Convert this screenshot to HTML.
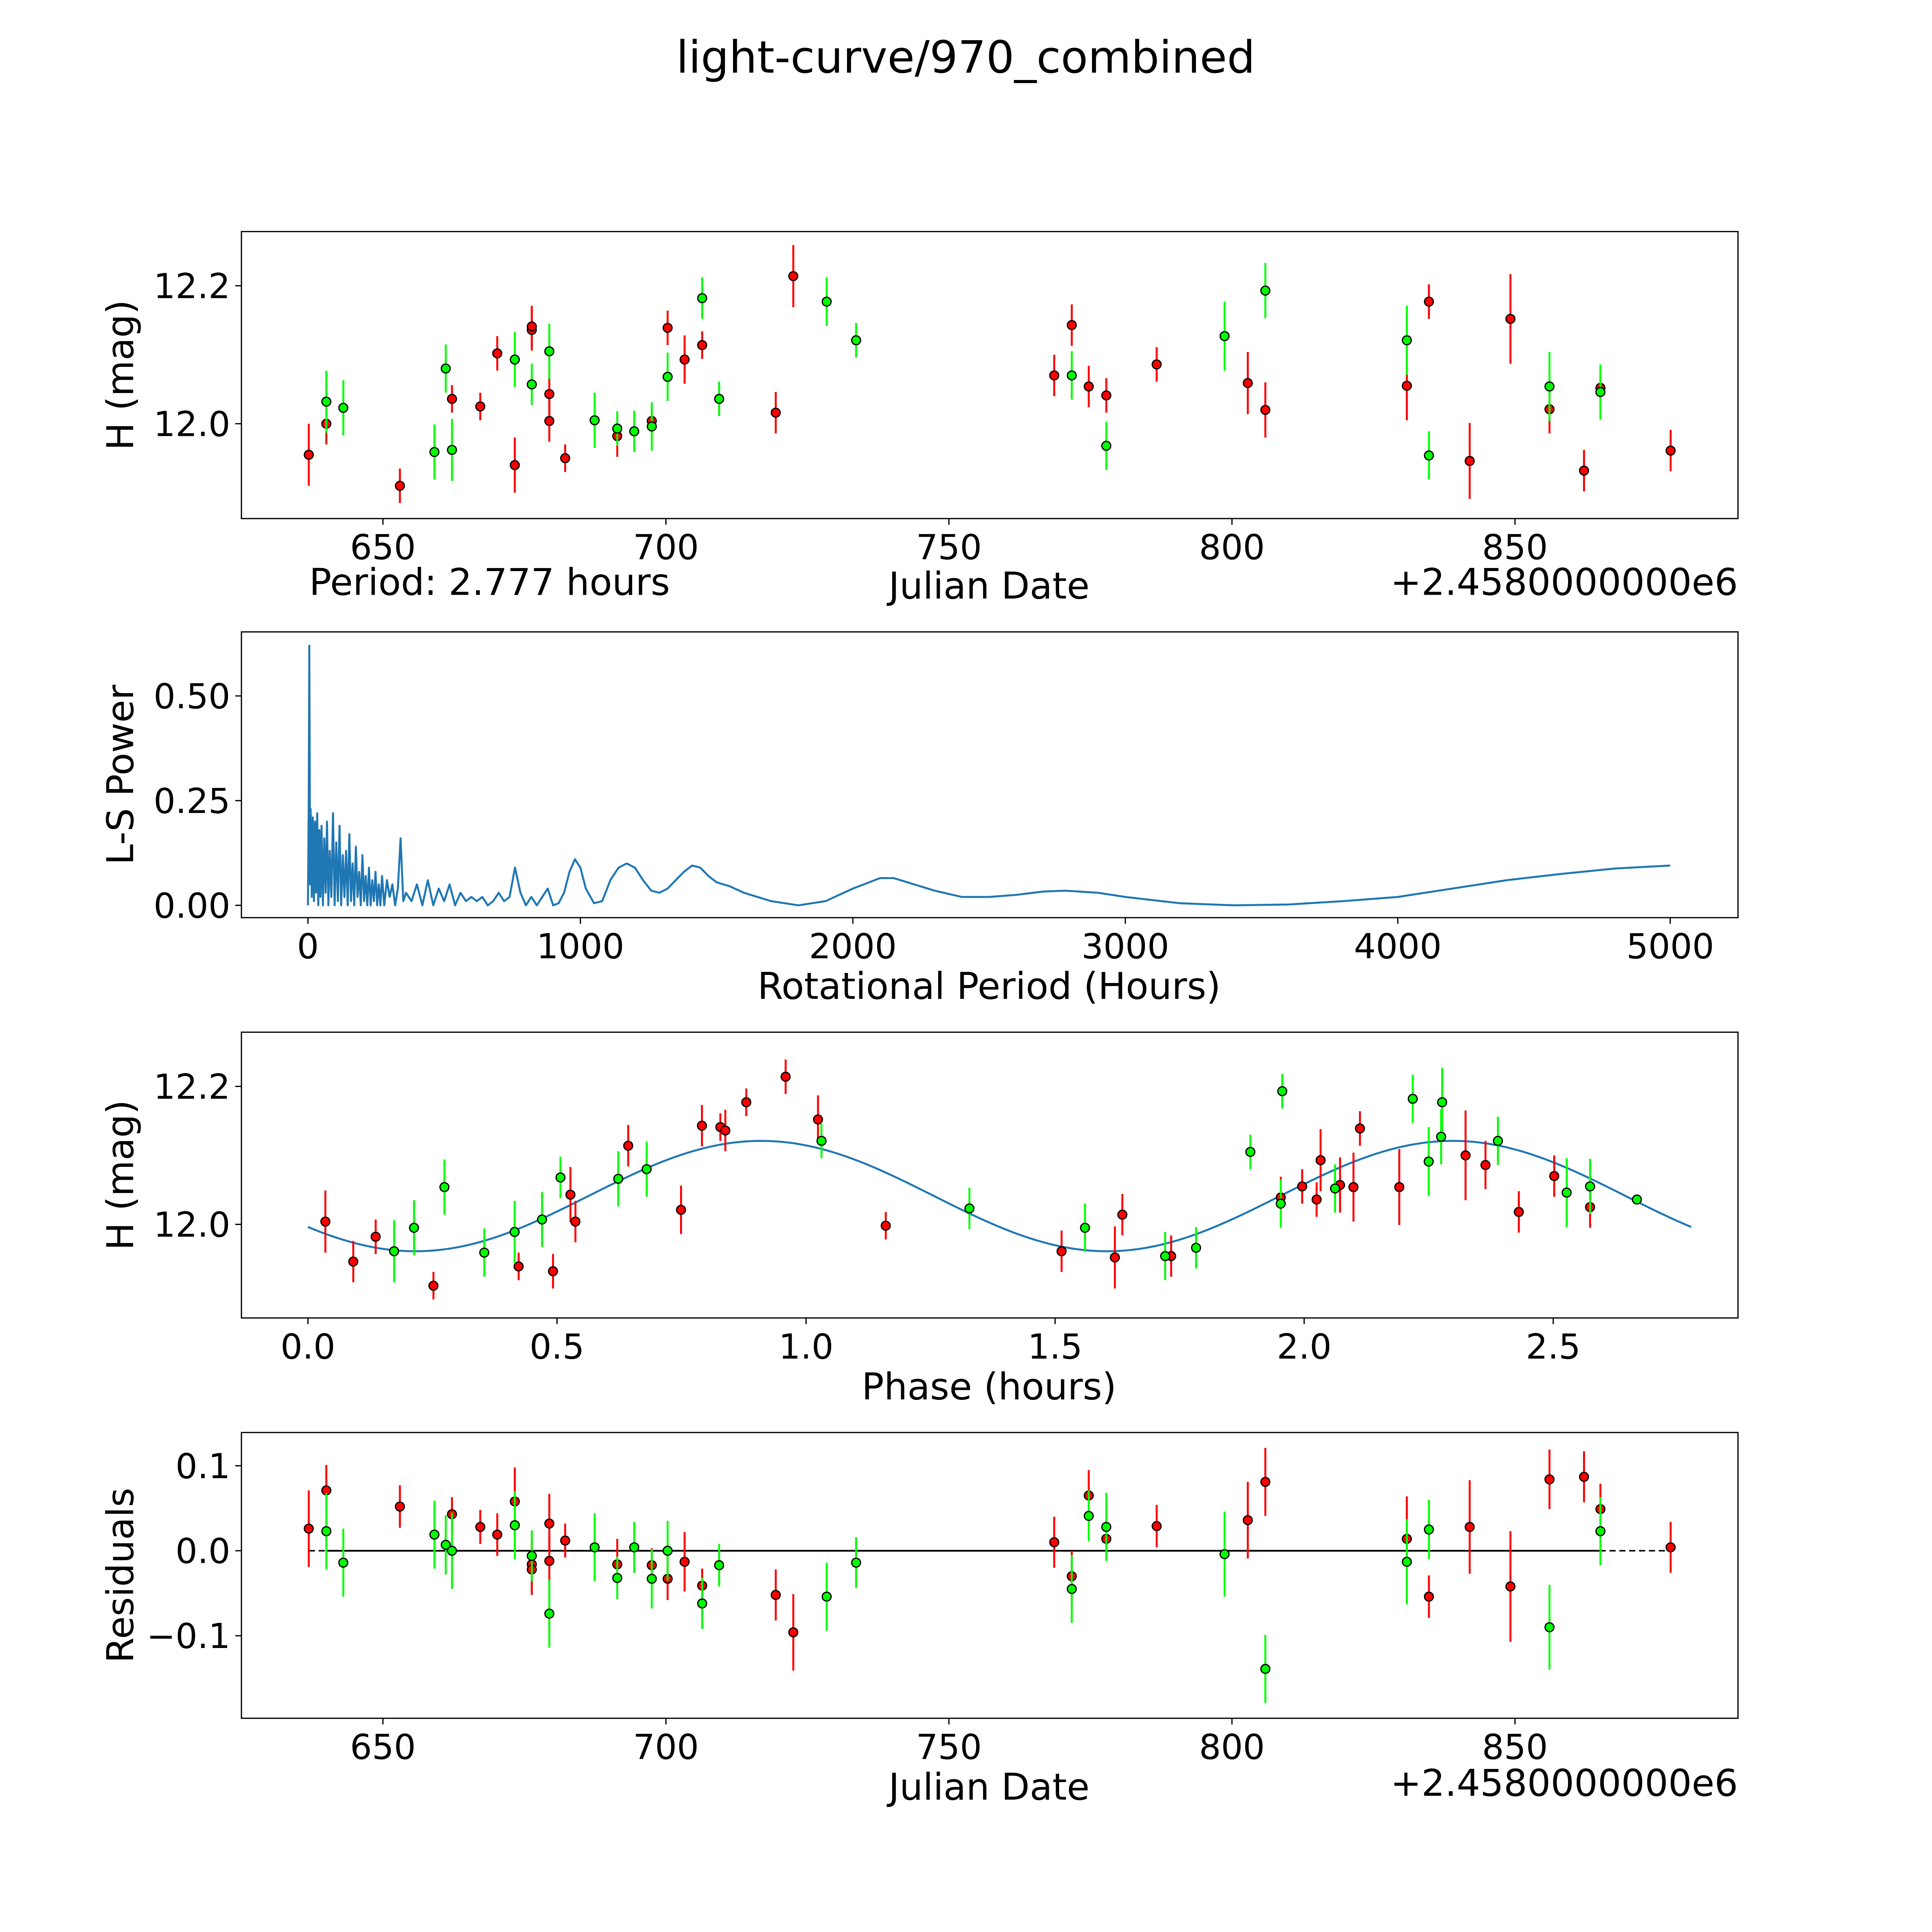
<!DOCTYPE html>
<html><head><meta charset="utf-8">
<style>
html,body{margin:0;padding:0;background:#fff;width:5400px;height:5400px;overflow:hidden;}
svg{display:block;position:absolute;left:0;top:0;}
text{font-family:"DejaVu Sans","Liberation Sans",sans-serif;fill:#000;}
</style></head>
<body>
<svg id="fig" xmlns="http://www.w3.org/2000/svg" width="5400" height="5400" viewBox="0 0 1694 1694" preserveAspectRatio="xMinYMin meet">
<rect x="0" y="0" width="1694" height="1694" fill="#fff"/>
<text x="784" y="59" font-size="36" text-anchor="middle">light-curve/970_combined</text>
</svg>
<script>
// ---- Panel 1: raw light curve ----
const redDates=[636.9,640.0,653.0,662.2,667.2,670.2,673.3,676.3,676.3,679.4,679.4,682.2,691.4,697.5,700.3,703.3,706.4,719.4,722.5,768.6,771.7,774.7,777.8,786.7,802.8,805.9,830.9,834.8,842.0,849.2,856.1,862.2,865.1,877.5];
const redMags=[11.955,12.0,11.91,12.036,12.025,12.102,11.94,12.136,12.141,12.043,12.004,11.95,11.982,12.004,12.139,12.093,12.114,12.016,12.214,12.07,12.143,12.054,12.041,12.086,12.059,12.02,12.055,12.177,11.946,12.152,12.021,11.932,12.052,11.961];
const redErrs=[0.045,0.03,0.025,0.02,0.02,0.025,0.04,0.03,0.03,0.035,0.03,0.02,0.03,0.02,0.025,0.035,0.02,0.03,0.045,0.03,0.03,0.03,0.025,0.025,0.045,0.04,0.05,0.025,0.055,0.065,0.035,0.03,0.03,0.03];
const greenDates=[640.0,643.0,659.1,661.1,662.2,673.3,676.3,679.4,687.4,691.4,694.4,697.5,700.3,706.4,709.4,728.4,733.6,771.7,777.8,798.7,805.9,830.9,834.8,856.1,865.1];
const greenMags=[12.032,12.023,11.959,12.08,11.962,12.093,12.057,12.105,12.005,11.993,11.989,11.996,12.068,12.182,12.036,12.177,12.121,12.07,11.968,12.127,12.193,12.121,11.954,12.054,12.046];
const greenErrs=[0.045,0.04,0.04,0.035,0.045,0.04,0.03,0.04,0.04,0.025,0.03,0.035,0.035,0.03,0.025,0.035,0.025,0.035,0.035,0.05,0.04,0.05,0.035,0.05,0.04];
// ---- Panel 2: periodogram ----
const lsPeriod=[0,3,5,8,10,14,18,22,26,30,34,38,42,46,50,55,60,65,70,75,80,86,92,98,104,110,116,122,128,134,140,146,152,158,164,170,176,182,188,194,200,206,212,218,224,230,236,242,248,254,260,266,272,280,290,300,310,320,330,340,350,360,380,400,420,440,460,480,500,520,540,560,580,600,620,640,660,680,700,720,740,760,780,800,820,840,860,880,900,920,940,960,980,1000,1020,1050,1080,1110,1140,1170,1200,1230,1260,1290,1320,1350,1380,1410,1440,1470,1500,1550,1600,1700,1800,1900,2000,2100,2150,2200,2300,2400,2500,2600,2700,2780,2900,3000,3200,3400,3600,3800,4000,4200,4400,4600,4800,5000];
const lsPower=[0,0.25,0.62,0.05,0.23,0.02,0.21,0.01,0.2,0.03,0.22,0.0,0.18,0.02,0.19,0.0,0.16,0.03,0.2,0.0,0.13,0.02,0.22,0.0,0.15,0.01,0.19,0.0,0.12,0.02,0.13,0.0,0.17,0.01,0.1,0.0,0.14,0.02,0.08,0.0,0.12,0.01,0.07,0.0,0.09,0.0,0.06,0.01,0.08,0.0,0.05,0.0,0.07,0.0,0.06,0.02,0.05,0.0,0.04,0.16,0.01,0.03,0.01,0.05,0.0,0.06,0.0,0.04,0.01,0.05,0.0,0.03,0.01,0.02,0.01,0.02,0.0,0.01,0.03,0.01,0.02,0.09,0.03,0.0,0.02,0.0,0.02,0.04,0.0,0.005,0.03,0.08,0.11,0.09,0.04,0.005,0.01,0.06,0.09,0.10,0.09,0.06,0.035,0.03,0.04,0.06,0.08,0.095,0.09,0.07,0.055,0.045,0.03,0.01,0.0,0.01,0.04,0.065,0.065,0.055,0.035,0.02,0.02,0.025,0.033,0.035,0.03,0.02,0.005,0.0,0.002,0.01,0.02,0.04,0.06,0.075,0.088,0.095];
// ---- Panel 3: phase-folded ----
const redPhase=[0.035,0.091,0.136,0.252,0.423,0.492,0.527,0.537,0.643,0.749,0.791,0.828,0.838,0.880,0.959,1.024,1.160,1.513,1.620,1.635,1.733,1.953,1.996,2.025,2.033,2.072,2.099,2.112,2.191,2.324,2.364,2.431,2.502,2.574];
const redPhaseMags=[12.004,11.946,11.982,11.911,11.939,11.932,12.043,12.004,12.114,12.021,12.143,12.141,12.136,12.177,12.214,12.152,11.998,11.961,11.952,12.014,11.954,12.039,12.055,12.036,12.093,12.057,12.054,12.139,12.054,12.1,12.086,12.018,12.07,12.025];
const greenPhase=[0.173,0.213,0.274,0.354,0.415,0.470,0.507,0.623,0.680,1.031,1.328,1.560,1.721,1.783,1.892,1.953,1.956,2.062,2.218,2.250,2.275,2.277,2.389,2.527,2.574,2.668];
const greenPhaseMags=[11.961,11.995,12.054,11.959,11.989,12.007,12.068,12.066,12.08,12.121,12.023,11.995,11.954,11.966,12.105,12.03,12.193,12.052,12.182,12.091,12.127,12.177,12.121,12.046,12.055,12.036];
const fitParams=[12.041,0.080,0.91,1.3885]; // mean, amplitude, peak phase, cycle length
const fitRange=[0,2.777];
// ---- Panel 4: residuals ----
const redResDates=redDates;
const redRes=[0.026,0.071,0.052,0.043,0.028,0.019,0.058,-0.016,-0.022,0.032,-0.012,0.012,-0.016,-0.017,-0.033,-0.013,-0.041,-0.052,-0.096,0.010,-0.030,0.065,0.014,0.029,0.036,0.081,0.014,-0.054,0.028,-0.042,0.084,0.087,0.049,0.004];
const greenResDates=[640.0,643.0,659.1,661.1,662.2,673.3,676.3,679.4,687.4,691.4,694.4,697.5,700.3,706.4,709.4,728.4,733.6,771.7,774.7,777.8,798.7,805.9,830.9,834.8,856.1,865.1];
const greenRes=[0.023,-0.014,0.019,0.007,0.0,0.030,-0.006,-0.074,0.004,-0.032,0.004,-0.033,0.0,-0.062,-0.017,-0.054,-0.014,-0.045,0.041,0.028,-0.004,-0.139,-0.013,0.025,-0.090,0.023];
const greenResErrs=[0.045,0.04,0.04,0.035,0.045,0.04,0.03,0.04,0.04,0.025,0.03,0.035,0.035,0.03,0.025,0.04,0.03,0.04,0.03,0.04,0.05,0.04,0.05,0.035,0.05,0.04];
const jdTicks=[650,700,750,800,850];
const magTicks=[12.0,12.2];
const lsXTicks=[0,1000,2000,3000,4000,5000];
const lsYTicks=[0,0.25,0.5];
const phaseTicks=[0,0.5,1.0,1.5,2.0,2.5];
const resTicks=[-0.1,0.0,0.1];

const svg=document.getElementById('fig');
const NS='http://www.w3.org/2000/svg';
function el(tag,attrs,parent){const e=document.createElementNS(NS,tag);for(const k in attrs)e.setAttribute(k,attrs[k]);(parent||svg).appendChild(e);return e;}
function lin(d0,d1,p0,p1){return v=>p0+(v-d0)*(p1-p0)/(d1-d0);}
const L=196,R=1411;
const jdX=lin(625.0,889.4,L,R);
function makePanel(name,top,bot,xs,ys,xt,yt,xfmt,yfmt,ylabel){
  const g=el('g',{});
  
  
  xt.forEach(t=>{const x=xs(t);
    el('line',{x1:x,x2:x,y1:bot,y2:bot+5,stroke:'#000','stroke-width':1},g);
    const tx=el('text',{x:x,y:bot+33,'font-size':28,'text-anchor':'middle'},g);tx.textContent=xfmt(t);
    
    
  });
  yt.forEach(t=>{const y=ys(t);
    el('line',{x1:L-5,x2:L,y1:y,y2:y,stroke:'#000','stroke-width':1},g);
    const tx=el('text',{x:L-9,y:y+10,'font-size':28,'text-anchor':'end'},g);tx.textContent=yfmt(t);
    
    
  });
  const yl=el('text',{x:0,y:0,'font-size':30,'text-anchor':'middle',transform:`translate(108,${(top+bot)/2}) rotate(-90)`},g);
  yl.textContent=ylabel;
  
  
  return g;
}
function frame(top,bot){const r=el('rect',{x:L,y:top,width:R-L,height:bot-top,fill:'none',stroke:'#000','stroke-width':1});
  
  }
function points(g,xsArr,ysArr,errs,xs,ys,col,nm){
  xsArr.forEach((d,i)=>{const x=xs(d);const e=errs[i];
    const ln=el('line',{x1:x,x2:x,y1:ys(ysArr[i]-e),y2:ys(ysArr[i]+e),stroke:col,'stroke-width':1.6},g);
    
    
  });
  xsArr.forEach((d,i)=>{const c=el('circle',{cx:xs(d),cy:ys(ysArr[i]),r:3.6,fill:col,stroke:'#000','stroke-width':1},g);
    
    
  });
}
function xlabel(text,x,y,anchor,nm){const t=el('text',{x:x,y:y,'font-size':30,'text-anchor':anchor});t.textContent=text;
  
  }

// Panel 1
{const top=188,bot=421;const ys=lin(11.8625,12.2786,bot,top);
 const g=makePanel('light-curve-panel',top,bot,jdX,ys,jdTicks,magTicks,t=>String(t),t=>t.toFixed(1),'H (mag)');
 points(g,redDates,redMags,redErrs,jdX,ys,'#ff0000','red');
 points(g,greenDates,greenMags,greenErrs,jdX,ys,'#00ff00','green');
 frame(top,bot);
 xlabel('Period: 2.777 hours',251,483,'start','period-label');
 xlabel('Julian Date',803,486,'middle','x-axis-title');
 xlabel('+2.4580000000e6',1411,483,'end','x-offset-label');}
// Panel 2
{const top=513,bot=745;const xs=lin(0,5000,250,1356),ys=lin(0,0.5,735,565);
 const g=makePanel('periodogram-panel',top,bot,xs,ys,lsXTicks,lsYTicks,t=>String(t),t=>t.toFixed(2),'L-S Power');
 const pts=lsPeriod.map((p,i)=>xs(p).toFixed(2)+','+ys(lsPower[i]).toFixed(2)).join(' ');
 const pl=el('polyline',{points:pts,fill:'none',stroke:'#1f77b4','stroke-width':1.6,'stroke-linejoin':'round'},g);
 
 
 frame(top,bot);
 xlabel('Rotational Period (Hours)',803,811,'middle','x-axis-title');}
// Panel 3
{const top=838,bot=1070;const xs=lin(0,2.5,250,1261),ys=lin(12.0,12.2,994,882);
 const g=makePanel('phase-panel',top,bot,xs,ys,phaseTicks,magTicks,t=>t.toFixed(1),t=>t.toFixed(1),'H (mag)');
 const [m,a,p0,c]=fitParams;const n=300;let pts=[];
 for(let i=0;i<=n;i++){const ph=fitRange[0]+(fitRange[1]-fitRange[0])*i/n;pts.push(xs(ph).toFixed(2)+','+ys(m+a*Math.cos(2*Math.PI*(ph-p0)/c)).toFixed(2));}
 const fl=el('polyline',{points:pts.join(' '),fill:'none',stroke:'#1f77b4','stroke-width':1.6},g);
 
 
 points(g,redPhase,redPhaseMags,redErrs,xs,ys,'#ff0000','red');
 points(g,greenPhase,greenPhaseMags,greenErrs,xs,ys,'#00ff00','green');
 frame(top,bot);
 xlabel('Phase (hours)',803,1136,'middle','x-axis-title');}
// Panel 4
{const top=1163,bot=1395;const ys=lin(0,0.1,1259,1190);
 const g=makePanel('residuals-panel',top,bot,jdX,ys,jdTicks,resTicks,t=>String(t),t=>(t<0?'\u22120.1':t.toFixed(1)),'Residuals');
 const z1=el('line',{x1:jdX(greenResDates[0]),x2:jdX(greenResDates[greenResDates.length-1]),y1:ys(0),y2:ys(0),stroke:'#000','stroke-width':1.4},g);
 
 
 const z2=el('line',{x1:jdX(redResDates[0]),x2:jdX(redResDates[redResDates.length-1]),y1:ys(0),y2:ys(0),stroke:'#000','stroke-width':1.2,'stroke-dasharray':'5,3'},g);
 
 
 points(g,redResDates,redRes,redErrs,jdX,ys,'#ff0000','red');
 points(g,greenResDates,greenRes,greenResErrs,jdX,ys,'#00ff00','green');
 frame(top,bot);
 xlabel('Julian Date',803,1461,'middle','x-axis-title');
 xlabel('+2.4580000000e6',1411,1458,'end','x-offset-label');}
</script>
</body></html>
